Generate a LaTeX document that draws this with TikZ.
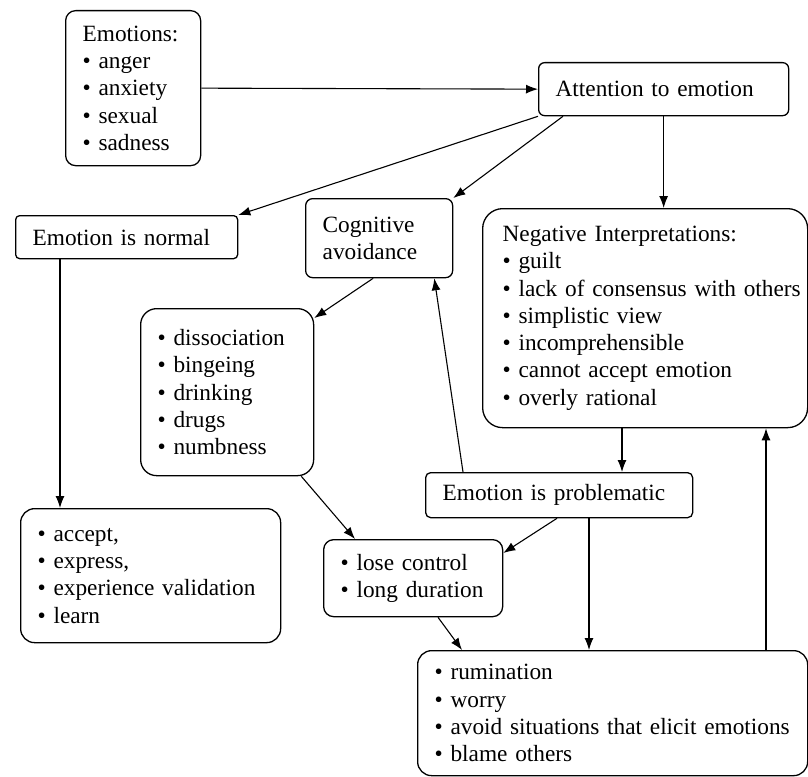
\documentclass[tikz,border=0pt]{standalone}
\usepackage{fontspec}
\setmainfont{Liberation Serif}
\usepackage{tikz}
\usetikzlibrary{arrows.meta}

\begin{document}
\begin{tikzpicture}[x=1pt,y=-1pt,
  box/.style={draw, line width=1.3pt, anchor=north west, align=left,
    inner xsep=17pt, inner ysep=0pt,
    font=\fontsize{23.3}{27.3}\selectfont},
  link/.style={line width=1.1pt, -{Latex[length=12pt,width=9pt]}}]
\useasboundingbox (0,0) rectangle (808,776);

\node (emo) [box, rounded corners=10pt, text width=101pt, minimum height=155pt] at (65,10)
  {Emotions:\\ \textbullet\ anger\\ \textbullet\ anxiety\\ \textbullet\ sexual\\ \textbullet\ sadness};
\node (attn) [box, rounded corners=6pt, text width=216pt, minimum height=53pt] at (538,62)
  {Attention to emotion};
\node (normal) [box, rounded corners=4pt, text width=188pt, minimum height=43pt] at (15,215)
  {Emotion is normal};
\node (cogn) [box, rounded corners=7pt, text width=113pt, minimum height=79pt] at (305,198)
  {Cognitive\\ avoidance};
\node (neg) [box, rounded corners=20pt, inner xsep=20pt, text width=285pt, minimum height=219pt] at (482,208)
  {Negative Interpretations:\\
   \textbullet\ guilt\\
   \mbox{\textbullet\ lack of consensus with others}\\
   \textbullet\ simplistic view\\
   \textbullet\ incomprehensible\\
   \textbullet\ cannot accept emotion\\
   \textbullet\ overly rational};
\node (diss) [box, rounded corners=16pt, text width=139pt, minimum height=167pt] at (140,308)
  {\textbullet\ dissociation\\ \textbullet\ bingeing\\ \textbullet\ drinking\\
   \textbullet\ drugs\\ \textbullet\ numbness};
\node (accept) [box, rounded corners=14pt, text width=226pt, minimum height=134pt] at (20,508)
  {\textbullet\ accept,\\ \textbullet\ express,\\ \textbullet\ experience validation\\
   \textbullet\ learn};
\node (prob) [box, rounded corners=5pt, text width=233pt, minimum height=45pt] at (425,472)
  {Emotion is problematic};
\node (lose) [box, rounded corners=10pt, text width=145pt, minimum height=77pt] at (323,539)
  {\textbullet\ lose control\\ \textbullet\ long duration};
\node (rum) [box, rounded corners=14pt, text width=356pt, minimum height=125pt] at (417,650)
  {\textbullet\ rumination\\ \textbullet\ worry\\
   \mbox{\textbullet\ avoid situations that elicit emotions}\\ \textbullet\ blame others};

% arrows
\draw [link] (emo.east) -- (attn.west);
\draw [link] (attn.south west) -- (normal.north east);
\draw [link] ([xshift=25pt]attn.south west) -- (cogn.north east);
\draw [link] (attn.south) -- (attn.south |- neg.north);
\draw [link] ([xshift=45pt]normal.south west) -- ([xshift=45pt]normal.south west |- accept.north);
\draw [link] ([xshift=-6pt]cogn.south) -- ([yshift=-10pt]diss.north east);
\draw [link] ([xshift=-13pt]diss.south east) -- ([xshift=32pt]lose.north west);
\draw [link] ([xshift=38pt]prob.north west) -- ([xshift=-19pt]cogn.south east);
\draw [link] ([xshift=140pt]neg.south west) -- ([xshift=140pt]neg.south west |- prob.north);
\draw [link] ([xshift=132pt]prob.south west) -- ([yshift=-14pt]lose.north east);
\draw [link] ([xshift=164pt]prob.south west) -- ([xshift=164pt]prob.south west |- rum.north);
\draw [link] ([xshift=115pt]lose.south west) -- ([xshift=45pt]rum.north west);
\draw [link] ([xshift=349pt]rum.north west) -- ([xshift=349pt]rum.north west |- neg.south);
\end{tikzpicture}
\end{document}
